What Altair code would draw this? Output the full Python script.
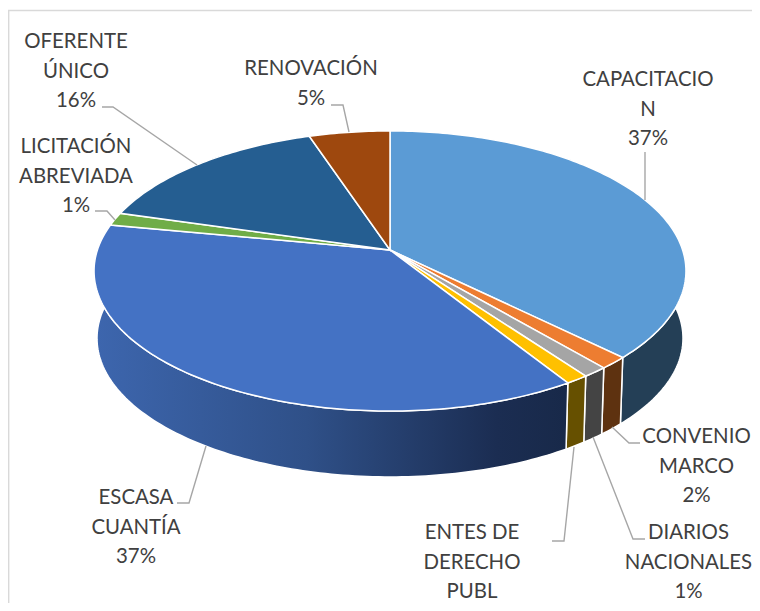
import math
import altair as alt

categories = ["CAPACITACION", "CONVENIO MARCO", "DIARIOS NACIONALES", "ENTES DE DERECHO PUBL",
              "ESCASA CUANTÍA", "LICITACIÓN ABREVIADA", "OFERENTE ÚNICO", "RENOVACIÓN"]
shares = [37.4, 1.4, 1.2, 1.1, 36.9, 1.5, 15.4, 5.1]
top_colors = ["#5B9BD5", "#ED7D31", "#A5A5A5", "#FFC000", "#4472C4", "#70AD47", "#255E91", "#9E480E"]
wall_colors = ["#243F56", "#5E3210", "#444444", "#665000", "#2C4A80", "#436A2B", "#17395A", "#5F2B08"]

label_lines = [
    ["CAPACITACIO", "N", "37%"],
    ["CONVENIO", "MARCO", "2%"],
    ["DIARIOS", "NACIONALES", "1%"],
    ["ENTES DE", "DERECHO", "PUBL"],
    ["ESCASA", "CUANTÍA", "37%"],
    ["LICITACIÓN", "ABREVIADA", "1%"],
    ["OFERENTE", "ÚNICO", "16%"],
    ["RENOVACIÓN", "5%"],
]
label_x = [648, 696.5, 688.5, 472, 136, 76, 76, 311]
label_y = [80, 437, 533, 533, 498, 147, 42, 69]
line_gap = 29.6
leaders = [
    [(645, 152), (645, 200)],
    [(640, 443), (629, 443), (612, 427)],
    [(645, 539), (633, 539), (593, 437)],
    [(552, 541), (564, 541), (574, 447)],
    [(177, 503), (189, 503), (206, 446)],
    [(95, 211), (107, 211), (115, 220)],
    [(102, 107), (113, 107), (197, 165)],
    [(331, 105), (343, 105), (349, 132)],
]

CX, CY, R, A, E = 390.0, 250.0, 292.6, 136.9, 0.15
SHRINK, DEPTH = 0.99, 67.5


def rim(theta, bottom=False):
    X, Y = math.sin(theta), -math.cos(theta)
    d = 1 - E * Y
    u, v = R * X / d, A * Y / d
    if bottom:
        return [CX + SHRINK * u, CY + SHRINK * v + DEPTH]
    return [CX + u, CY + v]


def arc(a, b, bottom=False):
    n = max(2, int(abs(b - a) / math.radians(1)) + 1)
    return [rim(a + (b - a) * i / n, bottom) for i in range(n + 1)]


total = sum(shares)
bounds = [0.0]
for s in shares:
    bounds.append(bounds[-1] + s / total * 2 * math.pi)


def feature(name, ring):
    ring = ring + [ring[0]]
    return {"type": "Feature", "properties": {"name": name},
            "geometry": {"type": "Polygon", "coordinates": [ring]}}


tops, walls = [], []
for i, name in enumerate(categories):
    a, b = bounds[i], bounds[i + 1]
    tops.append(feature(name, [[CX, CY]] + arc(a, b)))
    walls.append(feature(name, arc(a, b) + arc(a, b, True)[::-1]))

W, H = 744, 595
projection = alt.Projection(type="identity", scale=1, translate=[-8, -8])


def geo(features):
    return alt.Data(values=features)


x_scale = alt.Scale(domain=[8, 8 + W], nice=False, zero=False)
y_scale = alt.Scale(domain=[8 + H, 8], nice=False, zero=False)
layers = []

order = [7, 0, 6, 5, 1, 2, 3, 4]
for i in order:
    fill = wall_colors[i]
    if categories[i] == "ESCASA CUANTÍA":
        fill = alt.Gradient(gradient="linear", x1=0, x2=1, y1=0, y2=0,
                            stops=[alt.GradientStop(offset=0, color="#3D66AE"),
                                   alt.GradientStop(offset=0.45, color="#2F5088"),
                                   alt.GradientStop(offset=0.85, color="#1B2D52"),
                                   alt.GradientStop(offset=1, color="#182949")])
    layers.append(alt.Chart(geo([walls[i]])).mark_geoshape(
        fill=fill, stroke="white", strokeWidth=1.5).project(**projection.to_dict()))

for i in range(len(categories)):
    layers.append(alt.Chart(geo([tops[i]])).mark_geoshape(
        fill=top_colors[i], stroke="white", strokeWidth=1.5).project(**projection.to_dict()))

leader_rows = []
for i, pts in enumerate(leaders):
    for k, (px, py) in enumerate(pts):
        leader_rows.append({"c": categories[i], "k": k, "x": px, "y": py})
layers.append(alt.Chart(alt.Data(values=leader_rows)).mark_line(color="#A6A6A6", strokeWidth=1.4).encode(
    x=alt.X("x:Q", scale=x_scale, axis=None),
    y=alt.Y("y:Q", scale=y_scale, axis=None),
    detail="c:N", order="k:Q"))

text_rows = []
for i, lines in enumerate(label_lines):
    for k, t in enumerate(lines):
        text_rows.append({"t": t, "x": label_x[i], "y": label_y[i] + k * line_gap, "id": f"{i}-{k}"})
layers.append(alt.Chart(alt.Data(values=text_rows)).mark_text(
    font="Lato", fontSize=20.4, color="#404040", align="center", baseline="middle").encode(
    x=alt.X("x:Q", scale=x_scale, axis=None),
    y=alt.Y("y:Q", scale=y_scale, axis=None),
    text="t:N", detail="id:N"))

border_rows = [{"b": "top", "k": 0, "x": 752, "y": 10.5}, {"b": "top", "k": 1, "x": 8.7, "y": 10.5},
               {"b": "top", "k": 2, "x": 8.7, "y": 603}]
layers.append(alt.Chart(alt.Data(values=border_rows)).mark_line(color="#D9D9D9", strokeWidth=1.4).encode(
    x=alt.X("x:Q", scale=x_scale, axis=None),
    y=alt.Y("y:Q", scale=y_scale, axis=None),
    detail="b:N", order="k:Q"))

chart = alt.layer(*layers).properties(
    width=W, height=H, padding=0, autosize=alt.AutoSizeParams(type="none"), background="white"
).configure_view(stroke=None)

chart.save("out.html", embed_options={"renderer": "svg", "actions": False})
